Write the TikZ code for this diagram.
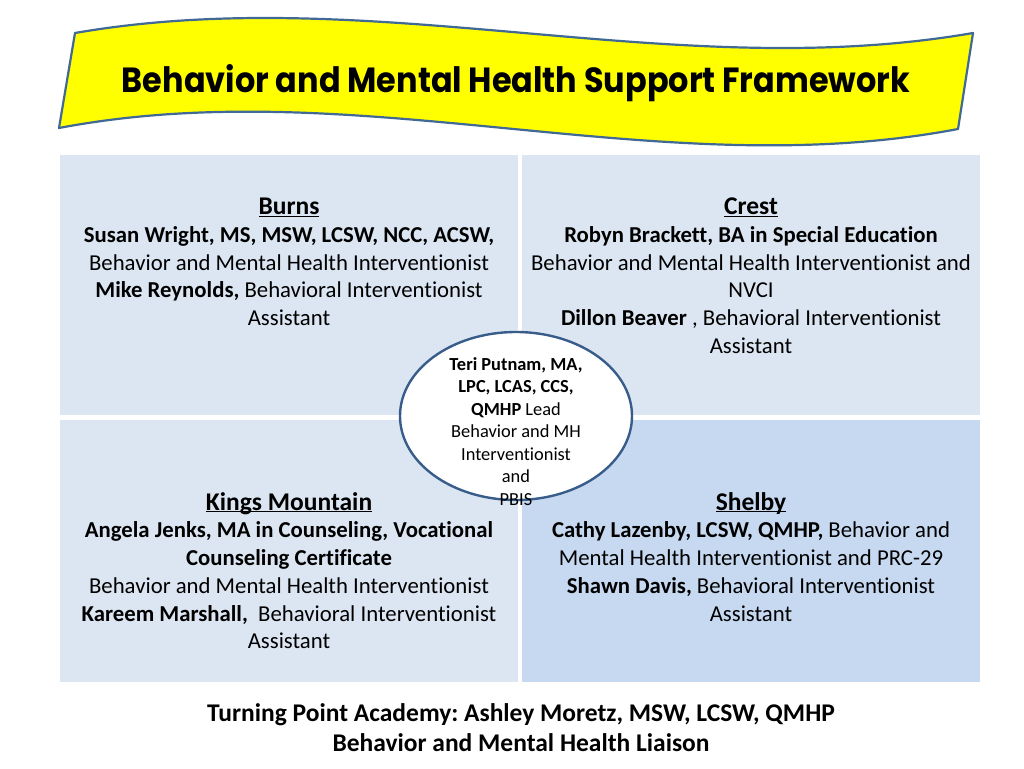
\documentclass[tikz,border=0pt]{standalone}
\usepackage{fontspec}
\setmainfont{Carlito}[Ligatures=NoCommon]
\newfontfamily\titlefont{Poppins}
\usetikzlibrary{shapes.geometric}
\definecolor{cellA}{RGB}{220,230,242}
\definecolor{cellB}{RGB}{198,217,241}
\definecolor{bannerline}{RGB}{65,105,150}
\definecolor{ovalline}{RGB}{56,93,138}
\definecolor{bannerfill}{RGB}{255,255,0}
\newcommand\ulin[1]{{\fontsize{25.5}{27.75}\selectfont\bfseries\underline{\smash{#1}}}\strut}
\frenchspacing
\tikzset{
  banner/.style={draw=bannerline, line width=2.2pt, fill=bannerfill, line join=round},
  cellbox/.style={inner sep=0pt, minimum width=458pt},
  celltext/.style={align=center, inner sep=0pt, anchor=north, font=\fontsize{22.75}{27.75}\selectfont},
  ovaltext/.style={align=center, inner sep=0pt, anchor=north, font=\fontsize{18.4}{22.5}\selectfont},
  foottext/.style={align=center, inner sep=0pt, anchor=north, font=\fontsize{25.5}{30}\selectfont\bfseries},
}
\begin{document}
\begin{tikzpicture}[x=1pt,y=-1pt]
\useasboundingbox (0,0) rectangle (1024,768);
\fill[white] (0,0) rectangle (1024,768);
% banner
\draw[banner] (75,33) .. controls (375,-19) and (673,85) .. (973,33) -- (958,129) .. controls (658,186) and (359,71) .. (59,128) -- cycle;
\node[anchor=base, inner sep=0pt] (title) at (516,92) {\resizebox{788pt}{28pt}{\titlefont\bfseries Behavior and Mental Health Support Framework}};
% cells
\node[cellbox, fill=cellA, minimum height=260pt] (burns) at (289,285) {};
\node[cellbox, fill=cellA, minimum height=260pt] (crest) at (751,285) {};
\node[cellbox, fill=cellA, minimum height=262pt] (kings) at (289,551) {};
\node[cellbox, fill=cellB, minimum height=262pt] (shelby) at (751,551) {};
% cell texts
\node[celltext] (burnsT) at (289,195) {\ulin{Burns}\\
\textbf{Susan Wright, MS, MSW, LCSW, NCC, ACSW,}\\
Behavior and Mental Health Interventionist\\
\textbf{Mike Reynolds,} Behavioral Interventionist\\
Assistant\strut};
\node[celltext] (crestT) at (751,195) {\ulin{Crest}\\
\textbf{Robyn Brackett, BA in Special Education}\\
Behavior and Mental Health Interventionist and\\
NVCI\\
\textbf{Dillon Beaver} , Behavioral Interventionist\\
Assistant\strut};
\node[celltext] (kingsT) at (289,490.5) {\ulin{Kings Mountain}\\
\textbf{Angela Jenks, MA in Counseling, Vocational}\\
\textbf{Counseling Certificate}\\
Behavior and Mental Health Interventionist\\
\textbf{Kareem Marshall,}\ \ Behavioral Interventionist\\
Assistant\strut};
\node[celltext] (shelbyT) at (751,490.5) {\ulin{Shelby}\\
\textbf{Cathy Lazenby, LCSW, QMHP,} Behavior and\\
Mental Health Interventionist and PRC-29\\
\textbf{Shawn Davis,} Behavioral Interventionist\\
Assistant\strut};
% central oval
\node[ellipse, draw=ovalline, line width=2.4pt, fill=white, minimum width=232pt, minimum height=168pt, inner sep=0pt] (lead) at (516,416) {};
\node[ovaltext] (leadT) at (516,354.5) {\strut\textbf{Teri Putnam, MA,}\\
\textbf{LPC, LCAS, CCS,}\\
\textbf{QMHP} Lead\\
Behavior and MH\\
Interventionist\\
and\\
PBIS\strut};
% footer
\node[foottext] (foot) at (521,700) {\strut Turning Point Academy: Ashley Moretz, MSW, LCSW, QMHP\\
Behavior and Mental Health Liaison\strut};
\end{tikzpicture}
\end{document}
